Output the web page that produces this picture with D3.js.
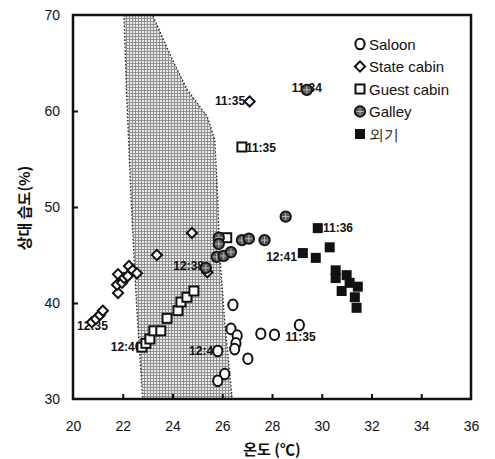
<!DOCTYPE html>
<html>
<head>
<meta charset="utf-8">
<script src="https://cdn.jsdelivr.net/npm/d3@7"></script>
<style>
  body { margin: 0; background: #fff; }
  text { font-family: "Liberation Sans", Arial, sans-serif; fill: #111; }
</style>
</head>
<body>
<div id="chart"></div>
<script>
const w = 495,
      h = 459;
const margin = {left: 73, right: 24, top: 15, bottom: 60};

// comfort zone outline (temperature, humidity)
const shadeX = [22.05, 22.15, 22.35, 22.55, 22.8, 26.4, 26.1, 25.9, 25.8, 25.7, 25.4, 24.6, 24.0, 23.2];
const shadeY = [70, 62, 50, 40, 30, 30, 38, 45, 52, 57, 59.4, 62.2, 65.3, 70];

const saloonX = [26.43, 26.35, 26.6, 26.55, 26.5, 27.03, 25.82, 26.1, 25.82, 27.55, 28.1, 29.1];
const saloonY = [39.8, 37.3, 36.6, 35.8, 35.2, 34.2, 35.0, 32.6, 31.9, 36.8, 36.7, 37.7];

const stateX = [20.76, 20.92, 21.08, 21.2, 21.81, 21.77, 21.97, 21.81, 22.05, 22.2, 22.25, 22.4, 22.57, 23.37, 24.78, 27.1, 25.4];
const stateY = [38.0, 38.33, 38.75, 39.2, 41.04, 41.9, 42.1, 43.0, 42.6, 42.8, 43.85, 43.4, 43.1, 45.0, 47.3, 61.0, 43.2];

const guestX = [22.77, 22.93, 23.09, 23.25, 23.53, 23.78, 24.22, 24.34, 24.58, 24.86, 26.18, 26.79];
const guestY = [35.4, 35.8, 36.25, 37.1, 37.1, 38.4, 39.2, 40.1, 40.6, 41.25, 46.8, 56.25];

const galleyX = [25.86, 25.86, 26.79, 27.07, 27.7, 28.55, 25.78, 26.06, 26.35, 25.34, 29.4];
const galleyY = [46.8, 46.15, 46.55, 46.7, 46.55, 49.0, 44.8, 44.9, 45.3, 43.65, 62.2];

const outsideX = [29.84, 30.32, 29.24, 29.76, 30.56, 30.56, 31.0, 31.12, 30.8, 31.45, 31.33, 31.4];
const outsideY = [47.8, 45.8, 45.2, 44.7, 43.4, 42.6, 42.9, 42.1, 41.25, 41.7, 40.6, 39.5];

const seriesNames = ['Saloon', 'State cabin', 'Guest cabin', 'Galley', '외기'];

// time annotations
const noteText = ['11:35', '11:34', '11:35', '11:36', '12:41', '12:35', '12:46', '12:40', '12:38', '11:35'];
const noteX = [26.92, 29.4, 26.95, 30.05, 29.0, 21.4, 22.75, 25.9, 24.65, 29.15];
const noteY = [60.6, 62.0, 55.7, 47.4, 44.4, 37.2, 35.0, 34.6, 43.4, 36.05];
const noteAnchor = ['end', 'middle', 'start', 'start', 'end', 'end', 'end', 'end', 'middle', 'middle'];

const xTicks = [20, 22, 24, 26, 28, 30, 32, 34, 36];
const yTicks = [30, 40, 50, 60, 70];

const svg = d3.select('#chart').append('svg')
              .attr('width', w)
              .attr('height', h);

const x = d3.scaleLinear().domain([20, 36]).range([margin.left, w - margin.right]);
const y = d3.scaleLinear().domain([30, 70]).range([h - margin.bottom, margin.top]);

// dotted fill pattern for the shaded zone
let defs = svg.append('defs');
let pat = defs.append('pattern').attr('id', 'dots')
              .attr('width', 3).attr('height', 3)
              .attr('patternUnits', 'userSpaceOnUse');
pat.append('rect').attr('width', 3).attr('height', 3).attr('fill', '#909090');
pat.append('rect').attr('x', 1).attr('y', 1).attr('width', 2).attr('height', 2).attr('fill', '#eaeaea');

const shadePts = shadeX.map((d, i) => [x(d), y(shadeY[i])]);
svg.append('path')
   .attr('d', d3.line()(shadePts) + 'Z')
   .attr('fill', 'url(#dots)')
   .attr('stroke', '#222')
   .attr('stroke-width', 1.3)
   .attr('stroke-dasharray', '1.5,2');

// axes with inward ticks
const xAxis = d3.axisBottom(x).tickValues(xTicks).tickSizeInner(-5).tickSizeOuter(0).tickPadding(22);
const yAxis = d3.axisLeft(y).tickValues(yTicks).tickSizeInner(-5).tickSizeOuter(0).tickPadding(13);

const gx = svg.append('g').attr('transform', `translate(0,${h - margin.bottom})`).call(xAxis);
const gy = svg.append('g').attr('transform', `translate(${margin.left},0)`).call(yAxis);
[gx, gy].forEach(g => {
    g.select('.domain').remove();
    g.selectAll('line').attr('stroke', '#111').attr('stroke-width', 2);
    g.selectAll('text').attr('font-size', 14).attr('fill', '#111')
     .style('font-family', '"Liberation Sans", Arial, sans-serif');
});
gx.selectAll('.tick').filter(d => d === 20 || d === 36).select('line').remove();
gy.selectAll('.tick').filter(d => d === 30 || d === 70).select('line').remove();

// frame
svg.append('rect')
   .attr('x', x(20)).attr('y', y(70))
   .attr('width', x(36) - x(20)).attr('height', y(30) - y(70))
   .attr('fill', 'none').attr('stroke', '#111').attr('stroke-width', 2.5);

// marker drawers
const drawSaloon = (g, cx, cy) => {
    g.append('ellipse').attr('cx', cx).attr('cy', cy).attr('rx', 4.6).attr('ry', 5.3)
     .attr('fill', '#fff').attr('stroke', '#111').attr('stroke-width', 2);
};
const drawState = (g, cx, cy) => {
    g.append('rect').attr('x', -3.6).attr('y', -3.6).attr('width', 7.2).attr('height', 7.2)
     .attr('transform', `translate(${cx},${cy}) rotate(45)`)
     .attr('fill', '#fff').attr('stroke', '#111').attr('stroke-width', 2);
};
const drawGuest = (g, cx, cy) => {
    g.append('rect').attr('x', cx - 4.5).attr('y', cy - 4.5).attr('width', 9).attr('height', 9)
     .attr('fill', '#fff').attr('stroke', '#111').attr('stroke-width', 2);
};
const drawGalley = (g, cx, cy) => {
    g.append('circle').attr('cx', cx).attr('cy', cy).attr('r', 5.3)
     .attr('fill', '#555').attr('stroke', '#111').attr('stroke-width', 1.7);
    g.append('path').attr('d', `M${cx - 3.5},${cy}H${cx + 3.5}M${cx},${cy - 3.5}V${cy + 3.5}`)
     .attr('stroke', '#bbb').attr('stroke-width', 1);
};
const drawOutside = (g, cx, cy) => {
    g.append('rect').attr('x', cx - 5).attr('y', cy - 5).attr('width', 10).attr('height', 10)
     .attr('fill', '#111');
};

const marks = svg.append('g');
saloonX.forEach((d, i) => drawSaloon(marks, x(d), y(saloonY[i])));
guestX.forEach((d, i) => drawGuest(marks, x(d), y(guestY[i])));
stateX.forEach((d, i) => drawState(marks, x(d), y(stateY[i])));
outsideX.forEach((d, i) => drawOutside(marks, x(d), y(outsideY[i])));

// annotations (galley markers sit on top of them)
const notes = svg.append('g');
noteText.forEach((t, i) => {
    notes.append('text')
         .attr('x', x(noteX[i])).attr('y', y(noteY[i]))
         .attr('text-anchor', noteAnchor[i])
         .attr('font-size', 12)
         .attr('font-weight', 'bold')
         .attr('fill', '#222')
         .text(t);
});
galleyX.forEach((d, i) => drawGalley(marks, x(d), y(galleyY[i])));
marks.raise();

// legend
const drawers = [drawSaloon, drawState, drawGuest, drawGalley, drawOutside];
const legend = svg.append('g').attr('transform', 'translate(360,44)');
seriesNames.forEach((name, i) => {
    const row = legend.append('g').attr('transform', `translate(0,${i * 22.5})`);
    drawers[i](row, 0, 0);
    row.append('text').attr('x', 9).attr('y', 5.5)
       .attr('font-size', 15)
       .text(name);
});

// axis titles
svg.append('text')
   .attr('x', (x(20) + x(36)) / 2)
   .attr('y', 455)
   .attr('text-anchor', 'middle')
   .attr('font-size', 15)
   .attr('font-weight', 'bold')
   .style('font-family', '"Noto Sans CJK KR", sans-serif')
   .text('온도 (℃)');

svg.append('text')
   .attr('transform', 'translate(30,208) rotate(-90)')
   .attr('text-anchor', 'middle')
   .attr('font-size', 15)
   .attr('font-weight', 'bold')
   .style('font-family', '"Noto Sans CJK KR", sans-serif')
   .text('상대 습도(%)');
</script>
</body>
</html>
